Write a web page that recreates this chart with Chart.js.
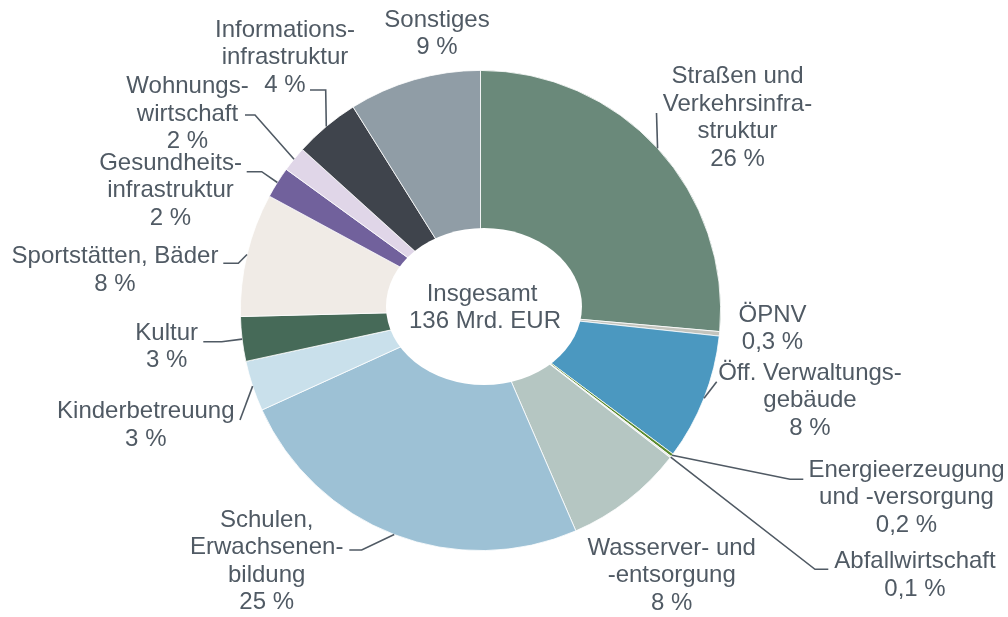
<!DOCTYPE html>
<html>
<head>
<meta charset="utf-8">
<script src="https://cdn.jsdelivr.net/npm/chart.js@4.4.0/dist/chart.umd.min.js"></script>
<style>
  html, body { margin: 0; padding: 0; background: #fff; }
  #wrap { width: 1008px; height: 617px; }
</style>
</head>
<body>
<div id="wrap"><canvas id="investChart"></canvas></div>
<script>
// Kommunaler Investitionsbedarf nach Bereichen (Anteile in %)
const categories = [
    ["Straßen und", "Verkehrsinfra-", "struktur"],
    ["ÖPNV"],
    ["Öff. Verwaltungs-", "gebäude"],
    ["Energieerzeugung", "und -versorgung"],
    ["Abfallwirtschaft"],
    ["Wasserver- und", "-entsorgung"],
    ["Schulen,", "Erwachsenen-", "bildung"],
    ["Kinderbetreuung"],
    ["Kultur"],
    ["Sportstätten, Bäder"],
    ["Gesundheits-", "infrastruktur"],
    ["Wohnungs-", "wirtschaft"],
    ["Informations-", "infrastruktur"],
    ["Sonstiges"]
];
const shares = [26.4, 0.3, 8.5, 0.2, 0.1, 8.0, 24.7, 3.4, 3.0, 8.3, 2.1, 1.7, 4.4, 8.9];
const shareLabels = ["26 %", "0,3 %", "8 %", "0,2 %", "0,1 %", "8 %", "25 %", "3 %", "3 %", "8 %", "2 %", "2 %", "4 %", "9 %"];
const totalLabel = ["Insgesamt", "136 Mrd. EUR"];

const sliceColors = [
    "#6a897a", "#c3c4bd", "#4b98c0", "#5b8a2e", "#e4e4e4", "#b5c6c2", "#9dc1d5",
    "#c9e0eb", "#466a58", "#f0ebe6", "#71619c", "#e0d6e8", "#3f444c", "#909da6"
];

// where each label sits and how its leader line bends (label side first, arc point is added)
const labelLayout = [
    { x: 737.5, y: 76.7, leader: [[656.5, 113]] },
    { x: 772.5, y: 315, leader: null },
    { x: 810, y: 373.3, leader: [[716.7, 381.7]] },
    { x: 906.5, y: 470, leader: [[803.3, 479.3], [790, 479.3]] },
    { x: 915, y: 561.7, leader: [[828.3, 569.3], [815, 569.3]] },
    { x: 671.7, y: 548.3, leader: null },
    { x: 266.7, y: 520, leader: [[349.3, 550], [361.7, 550]] },
    { x: 145.8, y: 411.7, leader: [[240, 420]] },
    { x: 166.7, y: 333.3, leader: [[203.3, 341.7], [221.7, 341.7]] },
    { x: 115, y: 256.7, leader: [[223.3, 263.3], [238.3, 263.3]] },
    { x: 170.5, y: 163, leader: [[246.7, 171.7], [261.7, 171.7]] },
    { x: 187.5, y: 86.7, leader: [[245, 115], [255, 115]] },
    { x: 285, y: 30, leader: [[310, 90], [325.7, 90]] },
    { x: 437, y: 20, leader: null }
];

const textColor = "#505a64";
const font = "24px 'Liberation Sans', Arial, sans-serif";
const lineHeight = 27.5;

// white elliptical hole with the total in the middle
const holePlugin = {
    id: "hole",
    afterDatasetsDraw(chart) {
        const arc = chart.getDatasetMeta(0).data[0];
        const ctx = chart.ctx;
        const cx = arc.x + 3.5, cy = arc.y - 4;
        ctx.save();
        ctx.fillStyle = "#ffffff";
        ctx.beginPath();
        ctx.ellipse(cx, cy, 98, 78.5, 0, 0, Math.PI * 2);
        ctx.fill();
        ctx.font = font;
        ctx.fillStyle = textColor;
        ctx.textAlign = "center";
        ctx.textBaseline = "middle";
        ctx.fillText(totalLabel[0], cx - 2, cy - 12);
        ctx.fillText(totalLabel[1], cx + 1, cy + 15);
        ctx.restore();
    }
};

// outside labels with leader lines
const labelPlugin = {
    id: "outsideLabels",
    afterDraw(chart) {
        const ctx = chart.ctx;
        const arcs = chart.getDatasetMeta(0).data;
        ctx.save();
        ctx.strokeStyle = textColor;
        ctx.lineWidth = 1.6;
        arcs.forEach((arc, i) => {
            const lay = labelLayout[i];
            if (lay.leader) {
                const mid = (arc.startAngle + arc.endAngle) / 2;
                const px = arc.x + Math.cos(mid) * arc.outerRadius;
                const py = arc.y + Math.sin(mid) * arc.outerRadius;
                ctx.beginPath();
                ctx.moveTo(lay.leader[0][0], lay.leader[0][1]);
                lay.leader.slice(1).forEach(p => ctx.lineTo(p[0], p[1]));
                ctx.lineTo(px, py);
                ctx.stroke();
            }
            const lines = categories[i].concat([shareLabels[i]]);
            ctx.font = font;
            ctx.fillStyle = textColor;
            ctx.textAlign = "center";
            ctx.textBaseline = "middle";
            lines.forEach((t, k) => ctx.fillText(t, lay.x, lay.y + k * lineHeight));
        });
        ctx.restore();
    }
};

const ctx = document.getElementById("investChart").getContext("2d");

const investChart = new Chart(ctx, {
    type: "doughnut",
    data: {
        labels: categories.map(c => c.join(" ")),
        datasets: [{
            data: shares,
            backgroundColor: sliceColors,
            borderColor: "#ffffff",
            borderWidth: 0.8
        }]
    },
    options: {
        responsive: true,
        maintainAspectRatio: false,
        animation: false,
        cutout: 70,
        layout: {
            padding: { top: 70, bottom: 66, left: 240, right: 287 }
        },
        plugins: {
            legend: { display: false },
            tooltip: { enabled: false }
        }
    },
    plugins: [holePlugin, labelPlugin]
});
</script>
</body>
</html>
